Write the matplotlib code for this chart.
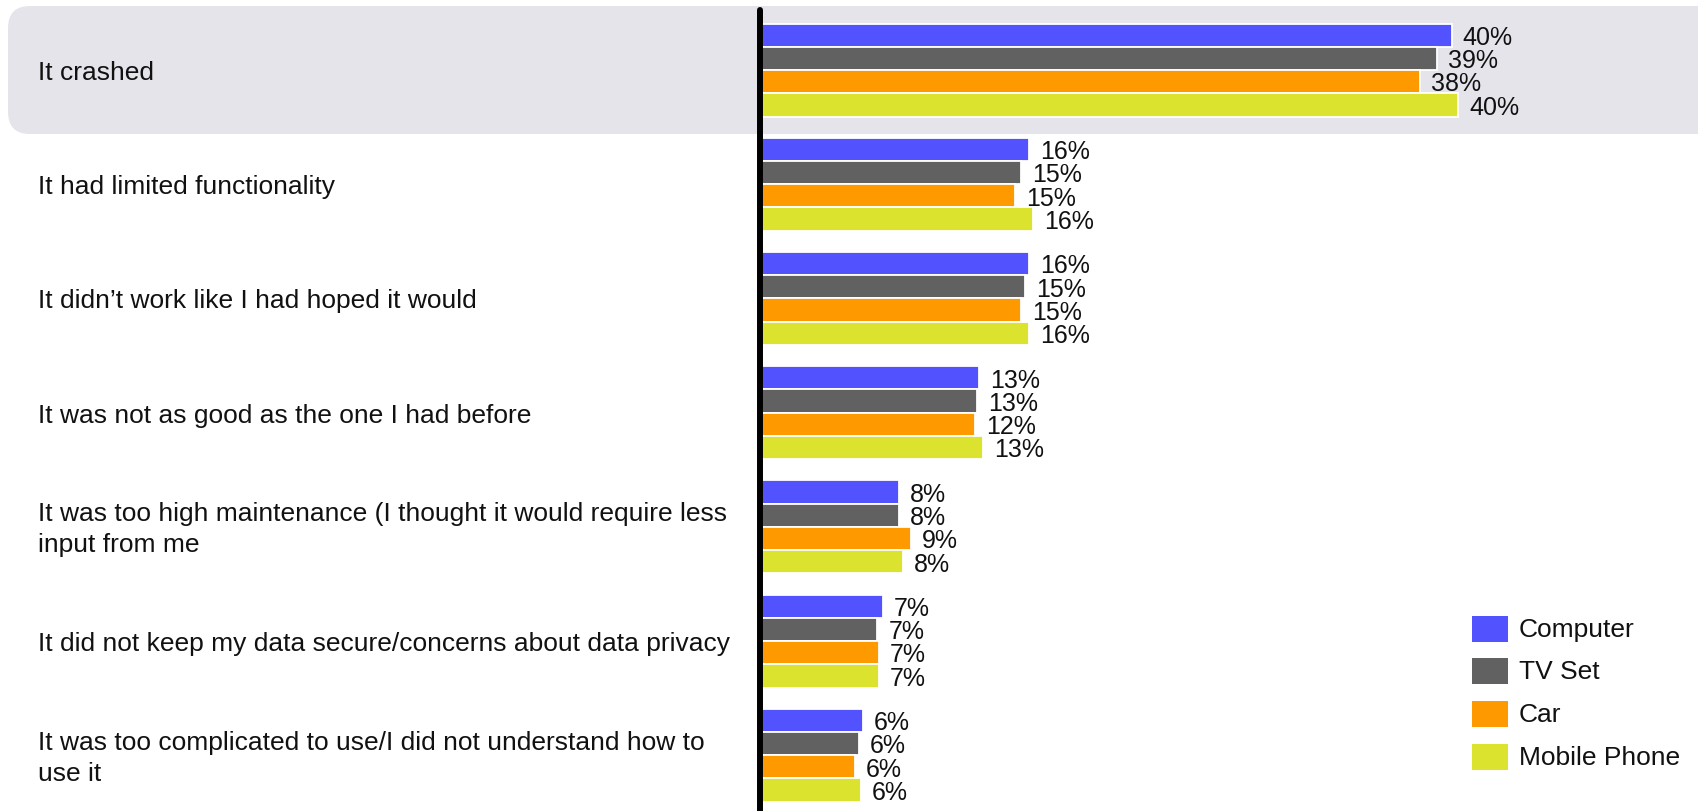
import matplotlib
matplotlib.use('Agg')
import matplotlib.pyplot as plt
from matplotlib.patches import FancyBboxPatch, Rectangle
import numpy as np

plt.rcParams['font.family'] = ['Liberation Sans', 'DejaVu Sans']

# Reasons for returning a product, share of respondents per device type
reasons = [
    'It crashed',
    'It had limited functionality',
    'It didn\u2019t work like I had hoped it would',
    'It was not as good as the one I had before',
    'It was too high maintenance (I thought it would require less\ninput from me',
    'It did not keep my data secure/concerns about data privacy',
    'It was too complicated to use/I did not understand how to\nuse it',
]
devices = ['Computer', 'TV Set', 'Car', 'Mobile Phone']
colors = ['#5252FF', '#616161', '#FF9900', '#DBE32F']

computer = [39.75, 15.55, 15.55, 12.66, 8.08, 7.16, 6.02]
tv_set = [38.93, 15.07, 15.32, 12.55, 8.08, 6.84, 5.79]
car = [37.92, 14.75, 15.09, 12.45, 8.77, 6.93, 5.56]
mobile_phone = [40.11, 15.76, 15.55, 12.89, 8.31, 6.93, 5.90]
series = [computer, tv_set, car, mobile_phone]

W, H = 1698, 811
fig = plt.figure(figsize=(W / 100, H / 100), dpi=100)

# background layer in pixel units: highlight box + category labels
bg = fig.add_axes([0, 0, 1, 1])
bg.set_xlim(0, W)
bg.set_ylim(H, 0)
bg.axis('off')
bg.add_patch(FancyBboxPatch((8, 6), W + 40, 128,
                            boxstyle='round,pad=0,rounding_size=22',
                            facecolor='#E6E4EB', edgecolor='none'))

row_px = 114.2
first_px = 70
for i, r in enumerate(reasons):
    bg.text(38, first_px + i * row_px + 3, r, fontsize=19, va='center',
            ha='left', color='#111111', linespacing=1.38)

# bar chart
px_per_pct = 17.45
ax_left = 758
ax = fig.add_axes([ax_left / W, 0, (W - ax_left) / W, 1])
ax.patch.set_alpha(0)
ax.set_xlim(0, (W - ax_left) / px_per_pct)
ax.set_ylim(len(reasons) - 1 + (H - (first_px + 6 * row_px)) / row_px, -first_px / row_px)
ax.axis('off')

y = np.arange(len(reasons))
h = 23.25 / row_px
for j, (vals, c) in enumerate(zip(series, colors)):
    ys = y + (j - 1.5) * h
    ax.barh(ys, vals, height=h, color=c, edgecolor='white', linewidth=1.3, zorder=2)
    for v, yy in zip(vals, ys):
        ax.text(v + 11 / px_per_pct, yy + 0.025, f"{v:.0f}%", fontsize=18,
                va='center', ha='left', color='#111111', zorder=3)

# vertical baseline
x_line = 2 / px_per_pct
ax.plot([x_line, x_line], [-first_px / row_px + 10 / row_px, 7], color='black',
        lw=4.3, solid_capstyle='round', clip_on=False, zorder=4)

# legend
leg_y = [629, 671.3, 714, 757]
for name, c, ly in zip(devices, colors, leg_y):
    bg.add_patch(Rectangle((1472, ly - 13), 36, 26, facecolor=c, edgecolor='none'))
    bg.text(1519, ly + 1, name, fontsize=19, va='center', ha='left', color='#111111')

fig.savefig('out.png', dpi=100)
